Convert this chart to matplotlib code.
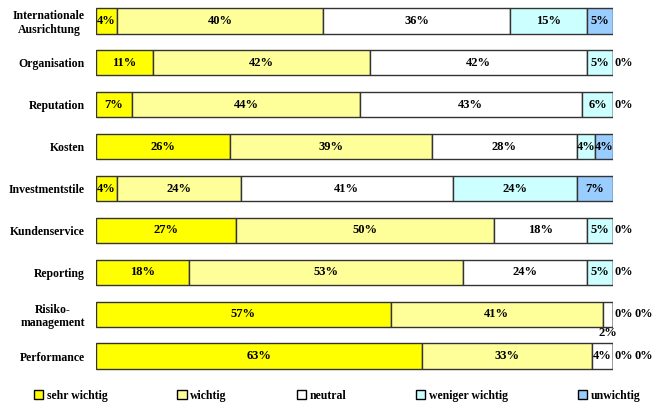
import matplotlib
matplotlib.use("Agg")
import matplotlib.pyplot as plt
from matplotlib.patches import Patch

categories = ["Internationale\nAusrichtung", "Organisation", "Reputation", "Kosten",
              "Investmentstile", "Kundenservice", "Reporting", "Risiko-\nmanagement", "Performance"]
series = ["sehr wichtig", "wichtig", "neutral", "weniger wichtig", "unwichtig"]
sehr_wichtig = [4, 11, 7, 26, 4, 27, 18, 57, 63]
wichtig = [40, 42, 44, 39, 24, 50, 53, 41, 33]
neutral = [36, 42, 43, 28, 41, 18, 24, 2, 4]
weniger_wichtig = [15, 5, 6, 3.5, 24, 5, 5, 0, 0]
unwichtig = [5, 0, 0, 3.5, 7, 0, 0, 0, 0]
colors = ["#FFFF00", "#FFFF99", "#FFFFFF", "#CCFFFF", "#99CCFF"]

data = [sehr_wichtig, wichtig, neutral, weniger_wichtig, unwichtig]

plt.rcParams['font.family'] = ['Liberation Serif', 'DejaVu Serif']
plt.rcParams['font.weight'] = 'bold'

fig = plt.figure(figsize=(6.53, 4.03), dpi=100)
ax = fig.add_axes([96/653, 1 - 377/403, (613 - 96)/653, 377/403])

n = len(categories)
ypos = list(range(n))
left = [0.0] * n
for s, (vals, col) in enumerate(zip(data, colors)):
    ax.barh(ypos, vals, left=left, height=0.6, color=col, edgecolor="#333333", linewidth=1.0)
    for i, v in enumerate(vals):
        if v >= 3:
            ax.text(left[i] + v / 2, i, f"{v:.0f}%", ha="center", va="center", fontsize=9, fontweight="bold")
        elif v > 0:
            ax.text(left[i] + v / 2, i + 0.45, f"{v:.0f}%", ha="center", va="center", fontsize=9, fontweight="bold")
    left = [l + v for l, v in zip(left, vals)]

# zero labels right of the bars
for i in range(n):
    k = 0
    for vals in data:
        if vals[i] == 0:
            ax.annotate("0%", xy=(100, i), xytext=(1.0 + k * 14.5, 0), textcoords="offset points",
                        ha="left", va="center", fontsize=8.8, fontweight="bold", annotation_clip=False)
            k += 1

ax.set_xlim(0, 100)
ax.set_ylim(n - 0.5, -0.5)
ax.set_yticks(ypos)
ax.set_yticklabels(categories, fontsize=8.5, fontweight="bold", multialignment="center")
ax.tick_params(axis="y", length=0, pad=8)
ax.set_xticks([])
for sp in ax.spines.values():
    sp.set_visible(False)

handles = [Patch(facecolor=c, edgecolor="black", linewidth=1.0) for c in colors]
fig.legend(handles, series, loc="center left", bbox_to_anchor=(34/653, 1 - 396/403), ncol=5,
           frameon=False, fontsize=8.5, handlelength=0.8, handleheight=0.8, handletextpad=0.3,
           columnspacing=5.9, borderaxespad=0, borderpad=0)

fig.savefig("out.png", dpi=100)
